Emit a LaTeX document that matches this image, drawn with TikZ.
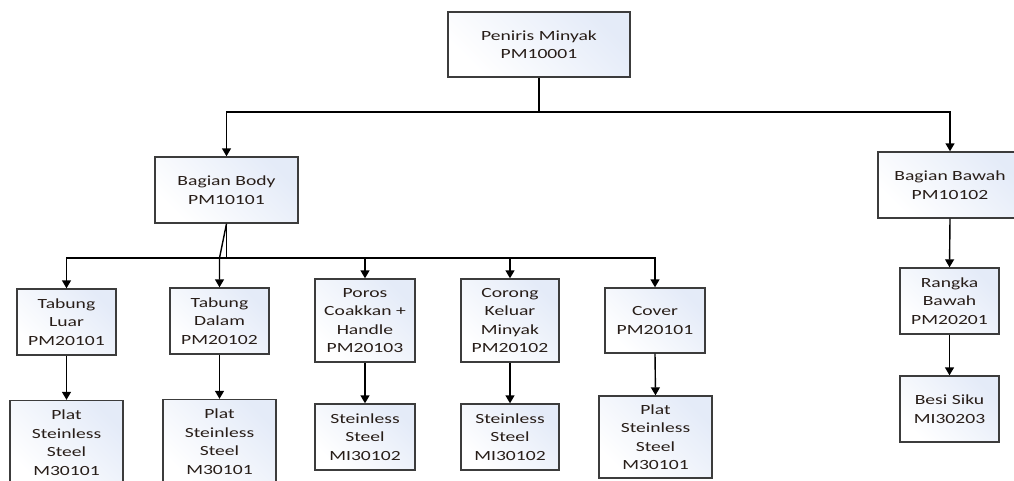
\documentclass[tikz,border=0pt]{standalone}
\usepackage{fontspec}
\setmainfont{Carlito}[FakeStretch=1.4]
\usetikzlibrary{arrows.meta,shadows}
\definecolor{boxfill}{RGB}{228,235,248}
\definecolor{boxline}{RGB}{60,60,60}
\definecolor{txt}{RGB}{40,30,25}
\tikzset{
  box/.style={draw=boxline, line width=1.4pt, left color=boxfill, right color=white,
    shading angle=-45, align=center, inner sep=2pt, text=txt,
    font=\fontsize{14}{18.5}\selectfont,
    drop shadow={shadow xshift=1.2pt, shadow yshift=-1.2pt, fill=gray!60, opacity=0.6}},
  conn/.style={line width=1.4pt, draw=black},
  arr/.style={conn, -{Triangle[width=9pt,length=8pt]}}
}
\begin{document}
\begin{tikzpicture}[x=1pt,y=-1pt]
\useasboundingbox (0,0) rectangle (1014,480);
\clip (0,0) rectangle (1014,480);
\fill[white] (0,0) rectangle (1014,480);
\node[box, minimum width=182pt, minimum height=65pt] (top) at (539,44.5) {Peniris Minyak\\PM10001};
\node[box, minimum width=143pt, minimum height=66pt] (body) at (226.5,190) {Bagian Body\\PM10101};
\node[box, minimum width=144pt, minimum height=66pt] (bawah) at (950,185) {Bagian Bawah\\PM10102};
\node[box, minimum width=99pt, minimum height=66pt] (tl) at (66.5,322) {Tabung\\Luar\\PM20101};
\node[box, minimum width=99pt, minimum height=66pt] (td) at (219.5,321) {Tabung\\Dalam\\PM20102};
\node[box, minimum width=100pt, minimum height=83pt] (poros) at (365,320.5) {Poros\\Coakkan +\\Handle\\PM20103};
\node[box, minimum width=98pt, minimum height=83pt] (corong) at (510,320.5) {Corong\\Keluar\\Minyak\\PM20102};
\node[box, minimum width=100pt, minimum height=65pt] (cover) at (655,320.5) {Cover\\PM20101};
\node[box, minimum width=113pt, minimum height=84pt] (ptl) at (66.5,442.5) {Plat\\Steinless\\Steel\\M30101};
\node[box, minimum width=113pt, minimum height=84pt] (ptd) at (219.5,441.5) {Plat\\Steinless\\Steel\\M30101};
\node[box, minimum width=100pt, minimum height=66pt] (sp) at (365,437) {Steinless\\Steel\\MI30102};
\node[box, minimum width=98pt, minimum height=66pt] (sc) at (510,437) {Steinless\\Steel\\MI30102};
\node[box, minimum width=113pt, minimum height=82pt] (pc) at (655.5,437) {Plat\\Steinless\\Steel\\M30101};
\node[box, minimum width=99pt, minimum height=66pt] (rangka) at (949.5,301) {Rangka\\Bawah\\PM20201};
\node[box, minimum width=99pt, minimum height=66pt] (besi) at (949.5,409) {Besi Siku\\MI30203};
% top level bus
\coordinate (tb) at (539,112);
\draw[conn] (top.south) -- (tb);
\draw[arr] (tb) -| (body.north);
\draw[arr] (tb) -| (bawah.north);
% body bus
\coordinate (bb) at (226.5,258);
\draw[conn] (body.south) -- (bb);
\draw[arr] (bb) -| (tl.north);
\draw[arr] (body.south) -- (td.north |- bb) -- (td.north);
\draw[arr] (bb) -| (poros.north);
\draw[arr] (bb) -| (corong.north);
\draw[arr] (bb) -| (cover.north);
% second level
\draw[arr] (tl.south) -- (ptl.north);
\draw[arr] (td.south) -- (ptd.north);
\draw[arr] (poros.south) -- (sp.north);
\draw[arr] (corong.south) -- (sc.north);
\draw[arr] (cover.south) -- (pc.north);
\draw[arr] (bawah.south) -- (rangka.north);
\draw[arr] (rangka.south) -- (besi.north);
\end{tikzpicture}
\end{document}
